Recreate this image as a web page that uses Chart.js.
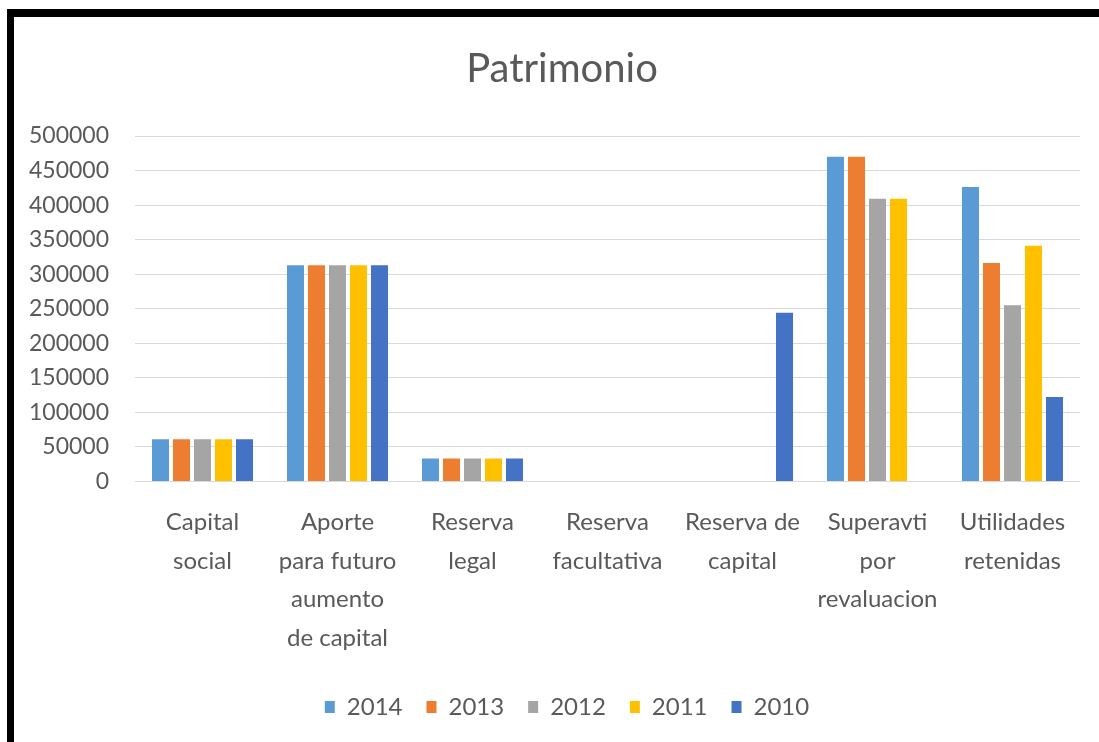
<!DOCTYPE html>
<html>
<head>
<meta charset="utf-8">
<script src="https://cdn.jsdelivr.net/npm/chart.js@4.4.0/dist/chart.umd.min.js"></script>
<style>
  body { margin: 0; background: #fff; width: 1099px; height: 742px; overflow: hidden; position: relative; }
  #frame { position: absolute; left: 7px; top: 9px; right: 0; bottom: 0; border-top: 8px solid #000; border-left: 7px solid #000; }
  #myChart { position: absolute; left: 14px; top: 17px; }
</style>
</head>
<body>
<div id="frame"></div>
<canvas id="myChart" width="1085" height="725"></canvas>
<script>
// categorias del patrimonio
let categorias = [
  ['Capital', 'social'],
  ['Aporte', 'para futuro', 'aumento', 'de capital'],
  ['Reserva', 'legal'],
  ['Reserva', 'facultativa'],
  ['Reserva de', 'capital'],
  ['Superavti', 'por', 'revaluacion'],
  ['Utilidades', 'retenidas']
];
let anios = ['2014', '2013', '2012', '2011', '2010'];
let v2014 = [61000, 313000, 33000, 0, 0, 470000, 426000];
let v2013 = [61000, 313000, 33000, 0, 0, 470000, 316000];
let v2012 = [61000, 313000, 33000, 0, 0, 409000, 255000];
let v2011 = [61000, 313000, 33000, 0, 0, 409000, 341000];
let v2010 = [61000, 313000, 33000, 0, 244000, 0, 122000];
let colores = ['#5B9BD5', '#ED7D31', '#A5A5A5', '#FFC000', '#4472C4'];
let valores = [v2014, v2013, v2012, v2011, v2010];

let gris = '#595959';

// centra titulo y leyenda como en Excel (algo a la derecha)
let desplazar = {
  id: 'desplazar',
  afterLayout(chart) {
    chart.titleBlock.left += 15;
    chart.titleBlock.right += 15;
    chart.legend.left += 20;
    chart.legend.right += 20;
  }
};

let mychart = document.getElementById('myChart').getContext('2d');
let chart = new Chart(mychart, {
  type: 'bar',
  data: {
    labels: categorias,
    datasets: anios.map((a, i) => ({
      label: a,
      data: valores[i],
      backgroundColor: colores[i],
      borderWidth: 0,
      categoryPercentage: 0.778,
      barPercentage: 0.81
    }))
  },
  options: {
    responsive: false,
    animation: false,
    layout: { padding: { left: 0, right: 19, top: 0, bottom: 13 } },
    plugins: {
      title: {
        display: true,
        text: 'Patrimonio',
        color: gris,
        font: { family: 'Lato', size: 40, weight: 'normal', lineHeight: 1.2 },
        padding: { top: 28, bottom: 43 }
      },
      legend: {
        position: 'bottom',
        labels: {
          color: gris,
          font: { family: 'Lato', size: 24 },
          boxWidth: 10,
          boxHeight: 12,
          padding: 24
        }
      },
      tooltip: { enabled: false }
    },
    scales: {
      x: {
        grid: { display: false, drawTicks: false },
        border: { display: false },
        ticks: {
          color: gris,
          font: { family: 'Lato', size: 24, lineHeight: 1.6 },
          padding: 22,
          maxRotation: 0,
          autoSkip: false
        },
        afterFit: function (scale) { scale.height = 189.6; }
      },
      y: {
        min: 0,
        max: 500000,
        grid: { color: '#D9D9D9', lineWidth: 1, drawTicks: false },
        border: { display: false },
        ticks: {
          stepSize: 50000,
          color: gris,
          font: { family: 'Lato', size: 23 },
          padding: 26,
          callback: function (v) { return String(v); }
        },
        afterFit: function (scale) { scale.width = 121; }
      }
    }
  },
  plugins: [desplazar]
});
</script>
</body>
</html>
